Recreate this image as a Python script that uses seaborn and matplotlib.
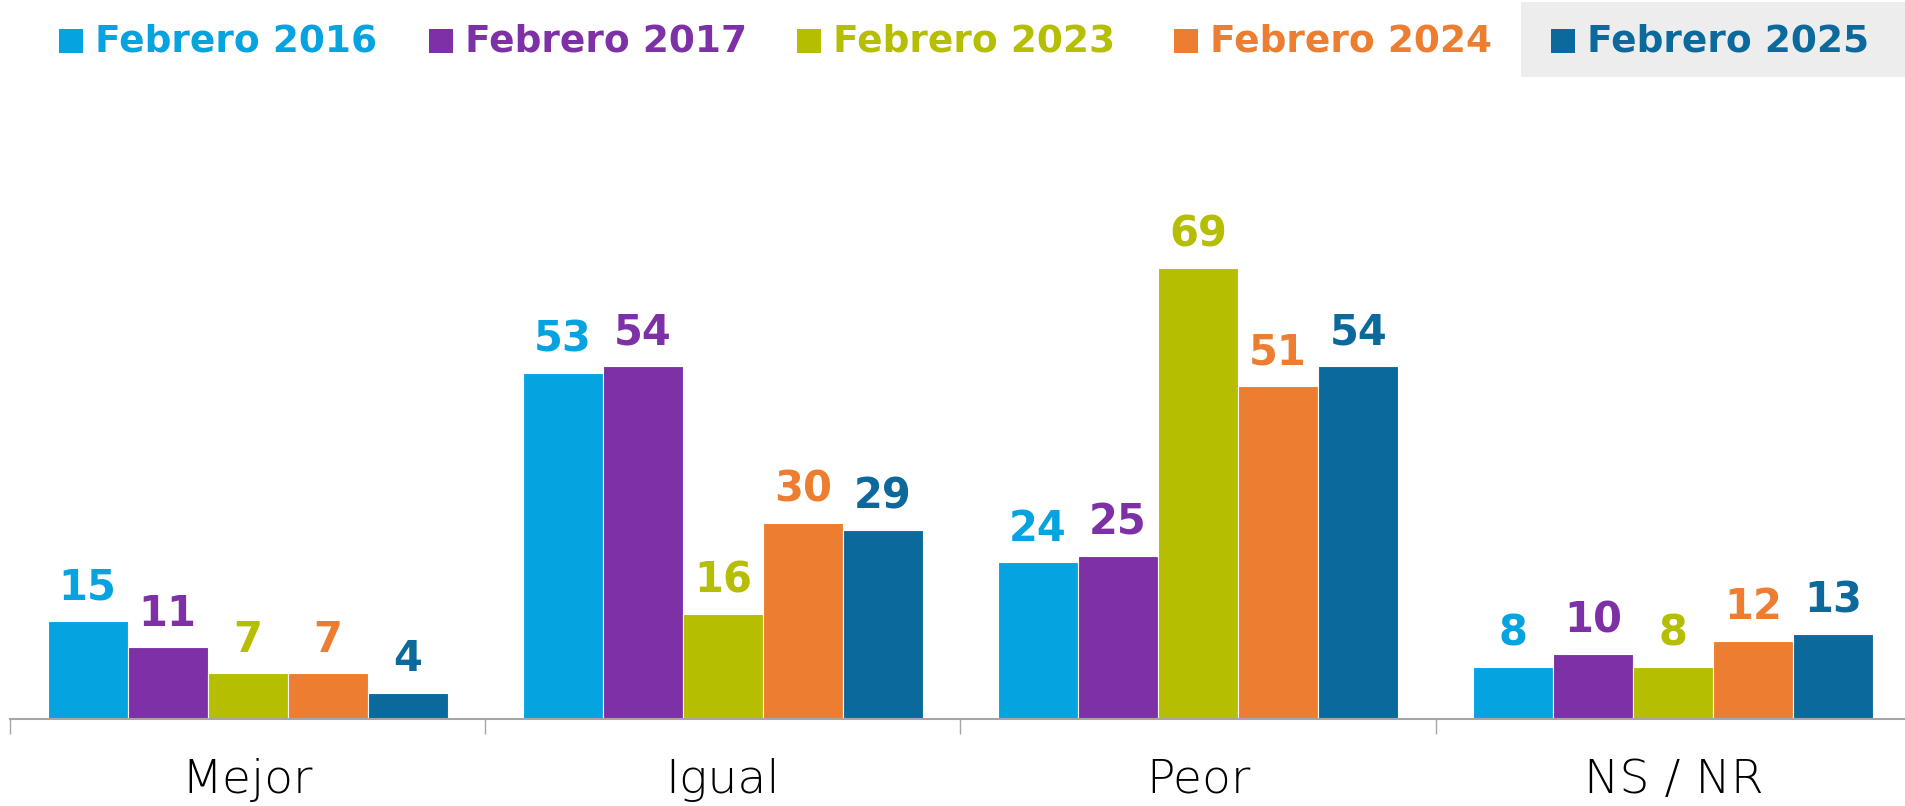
import pandas as pd
import matplotlib.pyplot as plt
import seaborn as sns
from matplotlib.patches import Rectangle

# Datos
categorias = ['Mejor', 'Igual', 'Peor', 'NS / NR']
series = ['Febrero 2016', 'Febrero 2017', 'Febrero 2023', 'Febrero 2024', 'Febrero 2025']
feb_2016 = [15, 53, 24, 8]
feb_2017 = [11, 54, 25, 10]
feb_2023 = [7, 16, 69, 8]
feb_2024 = [7, 30, 51, 12]
feb_2025 = [4, 29, 54, 13]

colores = ['#05A3E0', '#7E31A7', '#B5BE00', '#ED7D31', '#0B699C']

valores = [feb_2016, feb_2017, feb_2023, feb_2024, feb_2025]
records = []
for serie, vals in zip(series, valores):
    for cat, v in zip(categorias, vals):
        records.append([cat, serie, v])
df = pd.DataFrame(records, columns=['Categoria', 'Serie', 'Valor'])

sns.set_style('white')
plt.rcParams['font.family'] = ['DejaVu Sans']

W, H = 1906, 806
fig = plt.figure(figsize=(W / 100, H / 100), dpi=100)
ax = fig.add_axes([10 / W, 87 / H, 1901 / W, 629 / H])

sns.barplot(data=df, x='Categoria', y='Valor', hue='Serie', order=categorias,
            hue_order=series, palette=colores, width=0.842, saturation=1,
            edgecolor='white', linewidth=0.8, legend=False, ax=ax)

# Etiquetas de valores
for cont, color in zip(ax.containers, colores):
    ax.bar_label(cont, padding=9, color=color, fontsize=30, fontweight='bold')

ax.set_xlim(-0.5, 3.5)
ax.set_ylim(0, 96.3)
ax.set_xlabel('')
ax.set_ylabel('')
ax.set_yticks([])
for s in ['left', 'right', 'top']:
    ax.spines[s].set_visible(False)
ax.spines['bottom'].set_color('#A6A6A6')
ax.spines['bottom'].set_linewidth(1.5)

ax.set_xticks(range(len(categorias)))
ax.set_xticklabels(categorias, fontsize=34, fontweight=200, color='black')
ax.tick_params(axis='x', which='major', bottom=False, length=0, pad=28)
ax.set_xticks([i - 0.5 for i in range(len(categorias) + 1)], minor=True)
ax.tick_params(axis='x', which='minor', bottom=True, length=11, width=1,
               color='#A6A6A6', direction='out')

# Leyenda manual
fig.patches.append(Rectangle((1521 / W, 1 - 77 / H), 385 / W, 75 / H,
                             transform=fig.transFigure, facecolor='#EDEDED',
                             edgecolor='none', zorder=0))
x_cuadros = [59, 429, 797, 1174, 1551]
for xq, serie, color in zip(x_cuadros, series, colores):
    fig.patches.append(Rectangle((xq / W, 1 - 53 / H), 24 / W, 24 / H,
                                 transform=fig.transFigure, facecolor=color,
                                 edgecolor='none', zorder=1))
    fig.text((xq + 36) / W, 1 - 41 / H, serie, color=color, fontsize=27,
             fontweight='bold', ha='left', va='center')

fig.savefig('out.png', dpi=100, facecolor='white')
